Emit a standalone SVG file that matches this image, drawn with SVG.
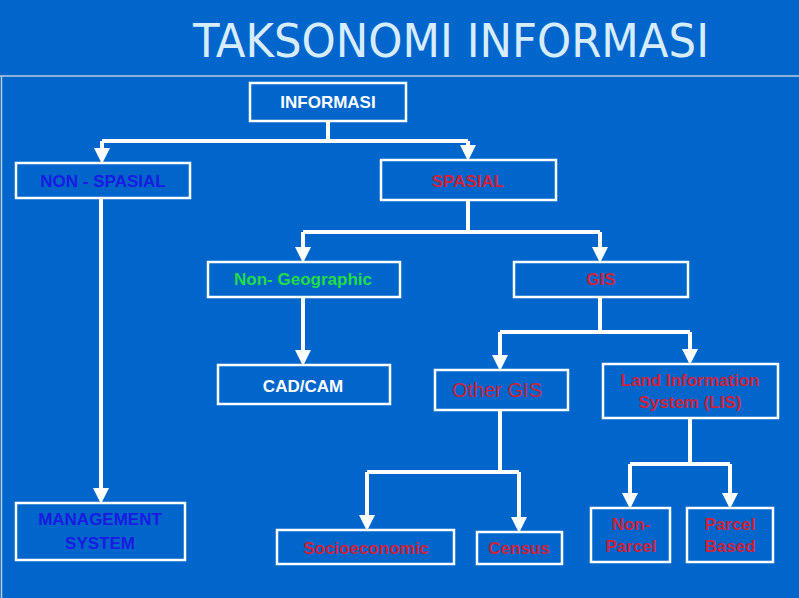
<svg xmlns="http://www.w3.org/2000/svg" width="799" height="598" viewBox="0 0 799 598">
<style>
.b{fill:none;stroke:#fff;stroke-width:2.5}
.t{font-family:"Liberation Sans",Arial,sans-serif;font-weight:bold;text-anchor:middle;font-size:17px}
.r{fill:#d0213a}
.c{fill:none;stroke:#fff;stroke-width:4}
</style>
<defs><marker id="a" markerWidth="4" markerHeight="4" refX="2" refY="2" orient="auto" markerUnits="strokeWidth" overflow="visible"><path d="M0,0 L4,2 L0,4z" fill="#fff"/></marker></defs>
<rect width="799" height="598" fill="#0066cc"/>
<path d="M0,76 H799 M1.5,76 V598" stroke="#bcd" stroke-width="1.5" fill="none"/>
<text x="451" y="57" font-family="'DejaVu Sans Condensed','DejaVu Sans',sans-serif" font-size="46" fill="#d8ecff" text-anchor="middle" textLength="516" lengthAdjust="spacingAndGlyphs">TAKSONOMI INFORMASI</text>
<g id="connectors">
<path class="c" d="M328,121 V141 M102,141 H468"/>
<path class="c" d="M102,141 V156" marker-end="url(#a)"/>
<path class="c" d="M468,141 V153" marker-end="url(#a)"/>
<path class="c" d="M101,198 V496" marker-end="url(#a)"/>
<path class="c" d="M468,200 V232 M303,232 H600"/>
<path class="c" d="M303,232 V255" marker-end="url(#a)"/>
<path class="c" d="M600,232 V255" marker-end="url(#a)"/>
<path class="c" d="M303,297 V358" marker-end="url(#a)"/>
<path class="c" d="M600,297 V332 M500,332 H690"/>
<path class="c" d="M500,332 V363" marker-end="url(#a)"/>
<path class="c" d="M690,332 V357" marker-end="url(#a)"/>
<path class="c" d="M500,410 V472 M367,472 H519"/>
<path class="c" d="M367,472 V523" marker-end="url(#a)"/>
<path class="c" d="M519,472 V525" marker-end="url(#a)"/>
<path class="c" d="M690,418 V464 M630,464 H730"/>
<path class="c" d="M630,464 V501" marker-end="url(#a)"/>
<path class="c" d="M730,464 V501" marker-end="url(#a)"/>
</g>
<g id="informasi"><rect class="b" x="250" y="83" width="156" height="38"/><text class="t" x="328" y="108" fill="#fff" font-size="18">INFORMASI</text></g>
<g id="nonspasial"><rect class="b" x="16" y="163" width="174" height="35"/><text class="t" x="103" y="187" fill="#1a1ae0">NON - SPASIAL</text></g>
<g id="spasial"><rect class="b" x="381" y="160" width="175" height="40"/><text class="t r" x="468" y="187" font-size="19">SPASIAL</text></g>
<g id="nongeo"><rect class="b" x="208" y="262" width="192" height="35"/><text class="t" x="303" y="285" fill="#22dd44">Non- Geographic</text></g>
<g id="gis"><rect class="b" x="514" y="262" width="174" height="35"/><text class="t r" x="601" y="285">GIS</text></g>
<g id="cadcam"><rect class="b" x="218" y="365" width="172" height="39"/><text class="t" x="303" y="392" fill="#fff">CAD/CAM</text></g>
<g id="othergis"><rect class="b" x="435" y="370" width="133" height="40"/><text x="497" y="397" font-family="'Liberation Sans',Arial,sans-serif" font-size="20" fill="#d0213a" text-anchor="middle">Other GIS</text></g>
<g id="lis"><rect class="b" x="603" y="364" width="175" height="54"/><text class="t r" x="690" y="386" font-size="15">Land Information</text><text class="t r" x="690" y="408" font-size="15">System (LIS)</text></g>
<g id="mgmt"><rect class="b" x="16" y="503" width="169" height="57"/><text class="t" x="100" y="525" fill="#1a1ae0">MANAGEMENT</text><text class="t" x="100" y="549" fill="#1a1ae0">SYSTEM</text></g>
<g id="socio"><rect class="b" x="277" y="530" width="177" height="34"/><text class="t r" x="366" y="554" font-size="16">Socioeconomic</text></g>
<g id="census"><rect class="b" x="477" y="532" width="85" height="32"/><text class="t r" x="519" y="554" font-size="16">Census</text></g>
<g id="nonparcel"><rect class="b" x="591" y="508" width="79" height="54"/><text class="t r" x="631" y="530" font-size="16">Non-</text><text class="t r" x="631" y="552" font-size="16">Parcel</text></g>
<g id="parcel"><rect class="b" x="687" y="508" width="86" height="54"/><text class="t r" x="730" y="530" font-size="16">Parcel</text><text class="t r" x="730" y="552" font-size="16">Based</text></g>
</svg>
